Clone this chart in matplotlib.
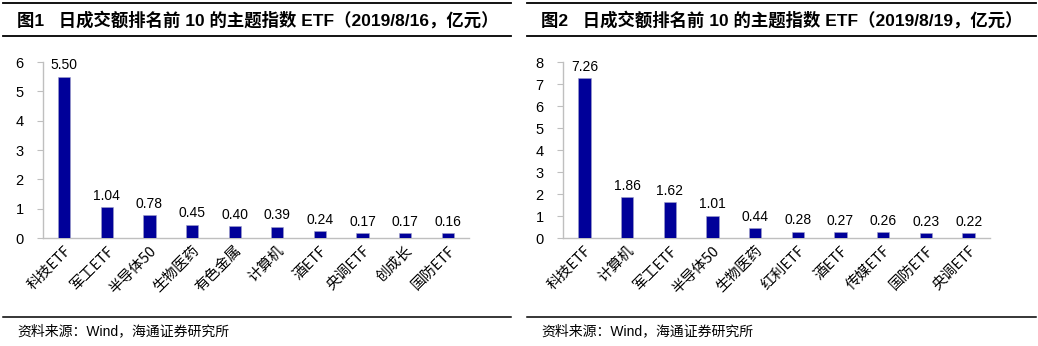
import matplotlib
matplotlib.use("Agg")
import matplotlib.pyplot as plt
from matplotlib.lines import Line2D

plt.rcParams['font.family'] = ['Liberation Sans', 'Noto Sans CJK SC', 'DejaVu Sans']

# 2019/8/16
cats1 = ['科技ETF', '军工ETF', '半导体50', '生物医药', '有色金属', '计算机', '酒ETF', '央调ETF', '创成长', '国防ETF']
vals1 = [5.50, 1.04, 0.78, 0.45, 0.40, 0.39, 0.24, 0.17, 0.17, 0.16]
yticks1 = [0, 1, 2, 3, 4, 5, 6]
title1 = '图1   日成交额排名前 10 的主题指数 ETF（2019/8/16，亿元）'

# 2019/8/19
cats2 = ['科技ETF', '计算机', '军工ETF', '半导体50', '生物医药', '红利ETF', '酒ETF', '传媒ETF', '国防ETF', '央调ETF']
vals2 = [7.26, 1.86, 1.62, 1.01, 0.44, 0.28, 0.27, 0.26, 0.23, 0.22]
yticks2 = [0, 1, 2, 3, 4, 5, 6, 7, 8]
title2 = '图2   日成交额排名前 10 的主题指数 ETF（2019/8/19，亿元）'

source = '资料来源：Wind，海通证券研究所'

W, H = 1038, 346
fig = plt.figure(figsize=(W / 100, H / 100), dpi=100)

bar_color = '#000099'
axis_color = '#bfbfbf'


def px(x0, y0, w, h):
    return [x0 / W, 1 - (y0 + h) / H, w / W, h / H]


def hline(x0, x1, y, lw=1.3):
    fig.add_artist(Line2D([x0 / W, x1 / W], [1 - y / H, 1 - y / H],
                          color='black', lw=lw, transform=fig.transFigure))


def draw_panel(rect, cats, vals, yticks, title, xl, xr):
    ax = fig.add_axes(px(*rect))
    x = range(len(cats))
    ax.bar(x, vals, width=0.29, color=bar_color, edgecolor='#a0a0c8', linewidth=0.4, zorder=3)
    for i, v in enumerate(vals):
        ax.text(i, v + (yticks[-1]) * 0.025, f'{v:.2f}', ha='center', va='bottom',
                fontsize=10, color='black')
    ax.set_xlim(-0.5, len(cats) - 0.5)
    ax.set_ylim(0, yticks[-1])
    ax.set_yticks(yticks)
    ax.set_xticks(list(x))
    ax.set_xticklabels(cats, rotation=45, ha='right', rotation_mode='anchor',
                       fontsize=10.5, family=['Noto Sans CJK SC', 'DejaVu Sans'])
    for s in ['top', 'right']:
        ax.spines[s].set_visible(False)
    for s in ['left', 'bottom']:
        ax.spines[s].set_color(axis_color)
        ax.spines[s].set_linewidth(1.0)
    ax.tick_params(axis='y', length=4, color=axis_color, labelsize=10.5, pad=10)
    ax.tick_params(axis='x', length=0, pad=4)

    # title block with rules above and below
    hline(xl, xr, 3)
    hline(xl, xr, 36)
    fig.text((xl + 14) / W, 1 - 20 / H, title, fontsize=12.5, fontweight='bold',
             ha='left', va='center', family=['Liberation Sans', 'Noto Sans CJK SC'])
    # source line
    hline(xl, xr, 317, lw=1.1)
    fig.text((xl + 14) / W, 1 - 331 / H, source, fontsize=10, ha='left', va='center',
             family=['Liberation Sans', 'Noto Sans CJK SC'])
    return ax


draw_panel((43, 62, 426, 176), cats1, vals1, yticks1, title1, 3, 511)
draw_panel((563, 62, 427, 176), cats2, vals2, yticks2, title2, 527, 1036)

fig.savefig('out.png', dpi=100)
